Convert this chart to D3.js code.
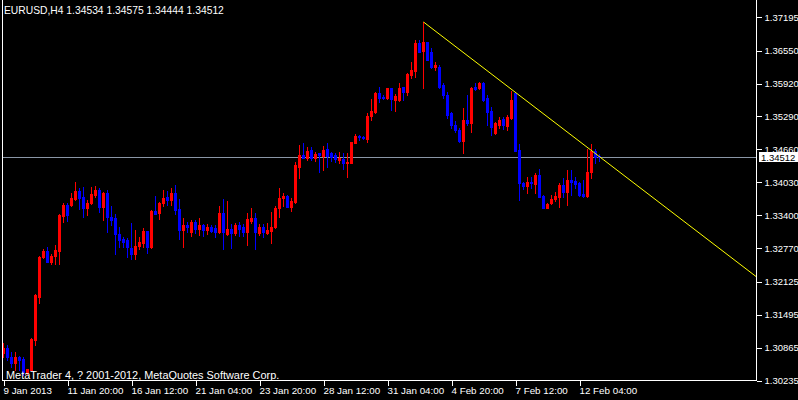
<!DOCTYPE html>
<html><head><meta charset="utf-8">
<script src="https://cdn.jsdelivr.net/npm/d3@7"></script>
<style>html,body{margin:0;padding:0;background:#000;} svg{display:block}</style>
</head><body>
<svg id="c" width="798" height="400"></svg>
<script>
const symbolLabel = "EURUSD,H4";
const headerOHLC = [1.34534, 1.34575, 1.34444, 1.34512];
const copyright = "MetaTrader 4, ? 2001-2012, MetaQuotes Software Corp.";

const opens = [
1.30761,1.30857,1.30685,1.30570,1.30685,1.30646,1.30378,1.30436,1.31010,1.31833,
1.32599,1.32714,1.32504,1.32618,1.32714,1.33384,1.33595,1.33595,1.33710,1.33863,
1.33748,1.33537,1.33633,1.33786,1.33882,1.33557,1.33825,1.33365,1.33346,1.33040,
1.32944,1.32925,1.32772,1.32657,1.32810,1.32867,1.33097,1.32791,1.33480,1.33442,
1.33633,1.33748,1.33691,1.33825,1.33518,1.33116,1.33212,1.33078,1.33269,1.33135,
1.33212,1.33116,1.33174,1.33155,1.33078,1.33442,1.33040,1.33135,1.33059,1.33212,
1.33174,1.33078,1.33289,1.33346,1.33059,1.33174,1.33059,1.33097,1.33174,1.33537,
1.33729,1.33767,1.33557,1.33652,1.34323,1.34552,1.34495,1.34648,1.34495,1.34591,
1.34533,1.34667,1.34591,1.34552,1.34457,1.34476,1.34399,1.34399,1.34782,1.34916,
1.34897,1.34859,1.35299,1.35376,1.35739,1.35663,1.35644,1.35835,1.35605,1.35605,
1.35854,1.35759,1.36084,1.36161,1.36697,1.36544,1.36716,1.36524,1.36237,1.36237,
1.35893,1.35701,1.35356,1.35127,1.35031,1.34820,1.35222,1.35165,1.35854,1.35835,
1.35931,1.35644,1.35395,1.34973,1.35127,1.35242,1.35108,1.35261,1.35739,1.34648,
1.34016,1.33959,1.34035,1.33997,1.34169,1.33767,1.33537,1.33633,1.33710,1.33748,
1.33978,1.33844,1.34074,1.34054,1.34016,1.33806,1.33767,1.34227,1.34629,1.34534];
const highs = [
1.30953,1.30914,1.30780,1.30780,1.30704,1.30685,1.30455,1.31048,1.31891,1.32618,
1.32752,1.32791,1.32657,1.32829,1.33423,1.33633,1.33633,1.33825,1.34035,1.33920,
1.33940,1.33691,1.33940,1.33959,1.33920,1.33844,1.33882,1.33576,1.33423,1.33174,
1.32982,1.32963,1.33250,1.33116,1.32982,1.33155,1.33097,1.33499,1.33767,1.33652,
1.33882,1.33863,1.33920,1.33978,1.33710,1.33346,1.33269,1.33308,1.33308,1.33346,
1.33231,1.33231,1.33212,1.33212,1.33576,1.33710,1.33672,1.33231,1.33250,1.33269,
1.33231,1.33442,1.33537,1.33442,1.33231,1.33231,1.33250,1.33461,1.33576,1.33920,
1.33825,1.33786,1.33729,1.34418,1.34744,1.34782,1.34705,1.34705,1.34610,1.34591,
1.34725,1.34782,1.34610,1.34591,1.34610,1.34591,1.34591,1.34801,1.34954,1.34935,
1.34916,1.35356,1.35624,1.35759,1.35854,1.35701,1.35835,1.35835,1.35720,1.35931,
1.35854,1.36122,1.36333,1.36754,1.36754,1.37099,1.36716,1.36601,1.36333,1.36275,
1.35931,1.35759,1.35376,1.35203,1.35069,1.35452,1.35701,1.35854,1.35931,1.35950,
1.35950,1.35701,1.35471,1.35184,1.35280,1.35280,1.35318,1.35778,1.35759,1.34763,
1.34035,1.34131,1.34131,1.34208,1.34284,1.33786,1.33633,1.33786,1.33844,1.34016,
1.34112,1.34265,1.34265,1.34131,1.34035,1.34074,1.34667,1.34763,1.34667,1.34575];
const lows = [
1.30685,1.30627,1.30493,1.30436,1.30436,1.30340,1.30359,1.30436,1.30914,1.31719,
1.32580,1.32504,1.32465,1.32465,1.32465,1.33269,1.33289,1.33576,1.33691,1.33518,
1.33365,1.33403,1.33614,1.33748,1.33461,1.33308,1.33078,1.33212,1.32657,1.32791,
1.32791,1.32599,1.32561,1.32561,1.32752,1.32791,1.32676,1.32772,1.33423,1.33327,
1.33576,1.33595,1.33595,1.33423,1.32944,1.32791,1.33078,1.33001,1.33059,1.33021,
1.33001,1.33040,1.33078,1.32982,1.33059,1.32752,1.33021,1.32772,1.33021,1.33001,
1.33001,1.32829,1.33250,1.32752,1.33021,1.32982,1.33040,1.32867,1.33155,1.33365,
1.33576,1.33557,1.33480,1.33633,1.34112,1.34495,1.34457,1.34457,1.34437,1.34227,
1.34265,1.34323,1.34437,1.34418,1.34399,1.34284,1.34131,1.34399,1.34782,1.34839,
1.34859,1.34801,1.35222,1.35356,1.35567,1.35624,1.35624,1.35414,1.35395,1.35586,
1.35605,1.35701,1.36027,1.36046,1.36524,1.35835,1.36371,1.36218,1.36180,1.35835,
1.35644,1.35261,1.35069,1.34993,1.34801,1.34591,1.35127,1.34993,1.35797,1.35816,
1.35586,1.35127,1.34935,1.34954,1.35069,1.35050,1.35031,1.35242,1.34629,1.33691,
1.33901,1.33825,1.33920,1.33825,1.33748,1.33537,1.33537,1.33614,1.33672,1.33557,
1.33748,1.33595,1.33786,1.33920,1.33767,1.33748,1.33748,1.34112,1.34399,1.34444];
const closes = [
1.30857,1.30685,1.30570,1.30685,1.30627,1.30397,1.30455,1.31029,1.31872,1.32599,
1.32714,1.32504,1.32618,1.32733,1.33403,1.33595,1.33403,1.33729,1.33863,1.33729,
1.33537,1.33633,1.33806,1.33882,1.33557,1.33825,1.33365,1.33308,1.33040,1.32925,
1.32886,1.32791,1.32657,1.32810,1.32886,1.33097,1.32791,1.33480,1.33423,1.33633,
1.33729,1.33691,1.33825,1.33499,1.33116,1.33212,1.33174,1.33269,1.33135,1.33212,
1.33116,1.33174,1.33097,1.33078,1.33442,1.33078,1.33135,1.33059,1.33212,1.33135,
1.33078,1.33327,1.33346,1.33078,1.33174,1.33078,1.33116,1.33174,1.33537,1.33729,
1.33767,1.33557,1.33672,1.34361,1.34552,1.34495,1.34629,1.34495,1.34571,1.34552,
1.34648,1.34533,1.34514,1.34476,1.34495,1.34399,1.34418,1.34801,1.34916,1.34897,
1.34878,1.35299,1.35395,1.35739,1.35644,1.35644,1.35835,1.35624,1.35682,1.35835,
1.35759,1.36103,1.36180,1.36697,1.36524,1.36716,1.36371,1.36237,1.36275,1.35854,
1.35701,1.35318,1.35127,1.35031,1.34820,1.35222,1.35165,1.35835,1.35816,1.35931,
1.35605,1.35376,1.35088,1.35165,1.35222,1.35127,1.35280,1.35605,1.34629,1.34016,
1.33959,1.34035,1.34016,1.34169,1.33748,1.33537,1.33614,1.33710,1.33767,1.33978,
1.33844,1.34074,1.34035,1.33997,1.33786,1.33767,1.34227,1.34629,1.34514,1.34512];

const priceTicks = [1.37195,1.36550,1.35920,1.35290,1.34660,1.34030,1.33400,1.32770,1.32125,1.31495,1.30865,1.30235];
const timeTickBars = [0,16,32,48,64,80,96,112,128,144];
const timeLabels = ["9 Jan 2013","11 Jan 20:00","16 Jan 12:00","21 Jan 04:00","23 Jan 20:00","28 Jan 12:00","31 Jan 04:00","4 Feb 20:00","7 Feb 12:00","12 Feb 04:00"];
const lastPrice = 1.34512;
const trendBars = [105, 149];
const trendPrices = [1.37099, 1.34520];

const FONT = "'Liberation Sans', Arial, sans-serif";
const svg = d3.select("#c");
svg.append("rect").attr("width",798).attr("height",400).attr("fill","#000");

const plotLeft = 2.5, plotRight = 756.5, plotBottom = 380.5;
const x = d3.scaleLinear().domain([0, opens.length - 1]).range([3.5, 3.5 + 4*(opens.length - 1)]);
const y = d3.scaleLinear().domain([1.30235, 1.37195]).range([380.5, 17]);

svg.append("defs").append("clipPath").attr("id","plot")
  .append("rect").attr("x",plotLeft).attr("y",0).attr("width",plotRight-plotLeft).attr("height",plotBottom);

const bars = opens.map((o,i)=>({i, o, h:highs[i], l:lows[i], c:closes[i]}));
const gC = svg.append("g").attr("clip-path","url(#plot)");

// price line
const yp = Math.round(y(lastPrice)) + 0.5;
gC.append("line").attr("x1",plotLeft).attr("x2",plotRight).attr("y1",yp).attr("y2",yp)
  .attr("stroke","#8a96a6").attr("stroke-width",1);

const col = d => d.c >= d.o ? "#ff0000" : "#0000ff";
gC.selectAll("line.wick").data(bars).join("line").attr("class","wick")
  .attr("x1",d=>x(d.i)).attr("x2",d=>x(d.i))
  .attr("y1",d=>Math.round(y(d.h))).attr("y2",d=>Math.round(y(d.l))+1)
  .attr("stroke",col).attr("stroke-width",1).attr("shape-rendering","crispEdges");
gC.selectAll("rect.body").data(bars).join("rect").attr("class","body")
  .attr("x",d=>x(d.i)-1.5).attr("width",3)
  .attr("y",d=>Math.round(y(Math.max(d.o,d.c))))
  .attr("height",d=>Math.max(1, Math.round(y(Math.min(d.o,d.c))) - Math.round(y(Math.max(d.o,d.c))) + 1))
  .attr("fill",col).attr("shape-rendering","crispEdges");

// trend line
const slope = (trendPrices[1]-trendPrices[0])/(trendBars[1]-trendBars[0]);
const endBar = x.invert(plotRight);
const endPrice = trendPrices[0] + slope*(endBar - trendBars[0]);
gC.append("line")
  .attr("x1",x(trendBars[0])).attr("y1",y(trendPrices[0]))
  .attr("x2",plotRight).attr("y2",y(endPrice))
  .attr("stroke","#ffff00").attr("stroke-width",1);

// frame
svg.append("path").attr("d",`M${plotLeft},0V${plotBottom}H${plotRight}V0`)
  .attr("fill","none").attr("stroke","#fff").attr("stroke-width",1).attr("shape-rendering","crispEdges");

// right axis
const yAxis = d3.axisRight(y).tickValues(priceTicks).tickFormat(d3.format(".5f")).tickSize(5).tickPadding(3);
const gy = svg.append("g").attr("transform",`translate(${plotRight},0)`).call(yAxis);
gy.select(".domain").remove();
gy.selectAll(".tick line").attr("stroke","#fff").attr("shape-rendering","crispEdges");
gy.selectAll(".tick text").attr("fill","#fff").style("font-family",FONT).style("font-size","9.5px");

// bottom axis
const xAxis = d3.axisBottom(x).tickValues(timeTickBars).tickFormat((d,k)=>timeLabels[k]).tickSize(5).tickPadding(2);
const gx = svg.append("g").attr("transform",`translate(0,${plotBottom})`).call(xAxis);
gx.select(".domain").remove();
gx.selectAll(".tick line").attr("stroke","#fff").attr("shape-rendering","crispEdges");
gx.selectAll(".tick text").attr("fill","#fff").attr("text-anchor","start").attr("x",-0.5)
  .style("font-family",FONT).style("font-size","9.8px");

// last price tag (overlays the neighbouring axis label, as in the original)
svg.append("rect").attr("x",759).attr("y",yp-5.5).attr("width",39).attr("height",10).attr("fill","#fff");
svg.append("text").attr("x",761).attr("y",yp+3.5).attr("fill","#000")
  .style("font-family",FONT).style("font-size","9.5px").text(d3.format(".5f")(lastPrice));

// header & copyright
svg.append("text").attr("x",4).attr("y",14).attr("fill","#fff").style("font-family",FONT).style("font-size","10.3px")
  .text(symbolLabel + "  " + headerOHLC.map(d3.format(".5f")).join(" "));
svg.append("text").attr("x",6).attr("y",379).attr("fill","#fff").style("font-family",FONT).style("font-size","10.9px")
  .text(copyright);
</script>
</body></html>
